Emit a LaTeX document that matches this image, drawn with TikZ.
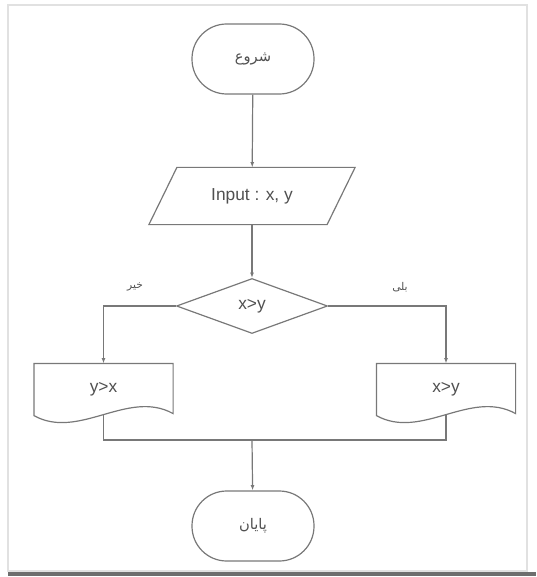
\documentclass[tikz,border=0pt]{standalone}
\usepackage{fontspec}
\setmainfont{Liberation Sans}
\newfontfamily\arabicfont[Script=Arabic]{DejaVu Sans}
\TeXXeTstate=1
\usetikzlibrary{arrows.meta,calc,shapes.geometric}

\tikzset{every picture/.style={line width=0.9pt}}
\tikzset{
  flowline/.style={draw={rgb,255:red,120;green,120;blue,120}},
  flowarrow/.style={flowline,-{Latex[length=4pt,width=3pt]}},
  termbox/.style={draw={rgb,255:red,120;green,120;blue,120},rectangle,rounded corners=26pt,minimum width=91.5pt,minimum height=52.5pt,inner sep=0pt,font=\arabicfont\fontsize{11}{13}\selectfont,text={rgb,255:red,80;green,80;blue,80}},
  iobox/.style={rectangle,minimum width=132.75pt,minimum height=42pt,inner sep=0pt,font=\fontsize{13}{15}\selectfont,text={rgb,255:red,80;green,80;blue,80}},
  decbox/.style={draw={rgb,255:red,120;green,120;blue,120},diamond,aspect=2.75,minimum width=113.25pt,minimum height=41.25pt,inner sep=0pt,font=\fontsize{13}{15}\selectfont,text={rgb,255:red,80;green,80;blue,80}},
  docbox/.style={rectangle,minimum width=103.5pt,minimum height=37.5pt,inner sep=0pt,font=\fontsize{13}{15}\selectfont,text={rgb,255:red,80;green,80;blue,80}},
  branchlbl/.style={inner sep=0.75pt,font=\arabicfont\fontsize{8}{10}\selectfont,text={rgb,255:red,80;green,80;blue,80}}
}

\begin{document}
\begin{tikzpicture}[x=0.75pt,y=0.75pt,yscale=-1,xscale=1]
\useasboundingbox (0,0) rectangle (536,577);

%Shape: Frame
\draw [draw={rgb,255:red,225;green,225;blue,225}] (8,5) rectangle (527,571);
\draw [draw={rgb,255:red,110;green,110;blue,110},line width=2.5pt] (8,574) -- (536,574);

%Shape: Terminators
\node [termbox] (start) at (253,59) {\beginR شروع\endR};
\node [termbox] (stop) at (253,526) {\beginR پایان\endR};

%Shape: Parallelogram
\node [iobox] (in) at (252,196) {Input : x, y};
\draw [flowline] ($(in.north west)+(14,0)$) -- ($(in.north east)+(14,0)$) -- ($(in.south east)+(-14,0)$) -- ($(in.south west)+(-14,0)$) -- cycle;

%Shape: Diamond
\node [decbox] (dec) at (252,306) {x>y};

%Shape: Documents
\node [docbox] (no) at (103.5,389) {y>x};
\node [docbox] (yes) at (446,389) {x>y};
\foreach \d in {no,yes}{
  \draw [flowline] (\d.north west) -- (\d.north east) -- ($(\d.south east)+(0,-1)$) .. controls ($(\d.south east)+(-45,-26)$) and ($(\d.south west)+(45,26)$) .. ($(\d.south west)+(0,1)$) -- cycle;
}

%Straight Lines
\coordinate (mrg) at (252,440);
\draw [flowarrow] (start) -- (in);
\draw [flowarrow] (in) -- (dec);
\draw [flowarrow] (dec.west) -| (no.north);
\draw [flowarrow] (dec.east) -| (yes.north);
\draw [flowline] (no.south) |- (mrg) -| (yes.south);
\draw [flowarrow] (mrg) -- (stop);

% Text Node
\node [branchlbl] (nolbl) at (135,287) {\beginR خیر\endR};
% Text Node
\node [branchlbl] (yeslbl) at (400,287) {\beginR بلی\endR};

\end{tikzpicture}
\end{document}
